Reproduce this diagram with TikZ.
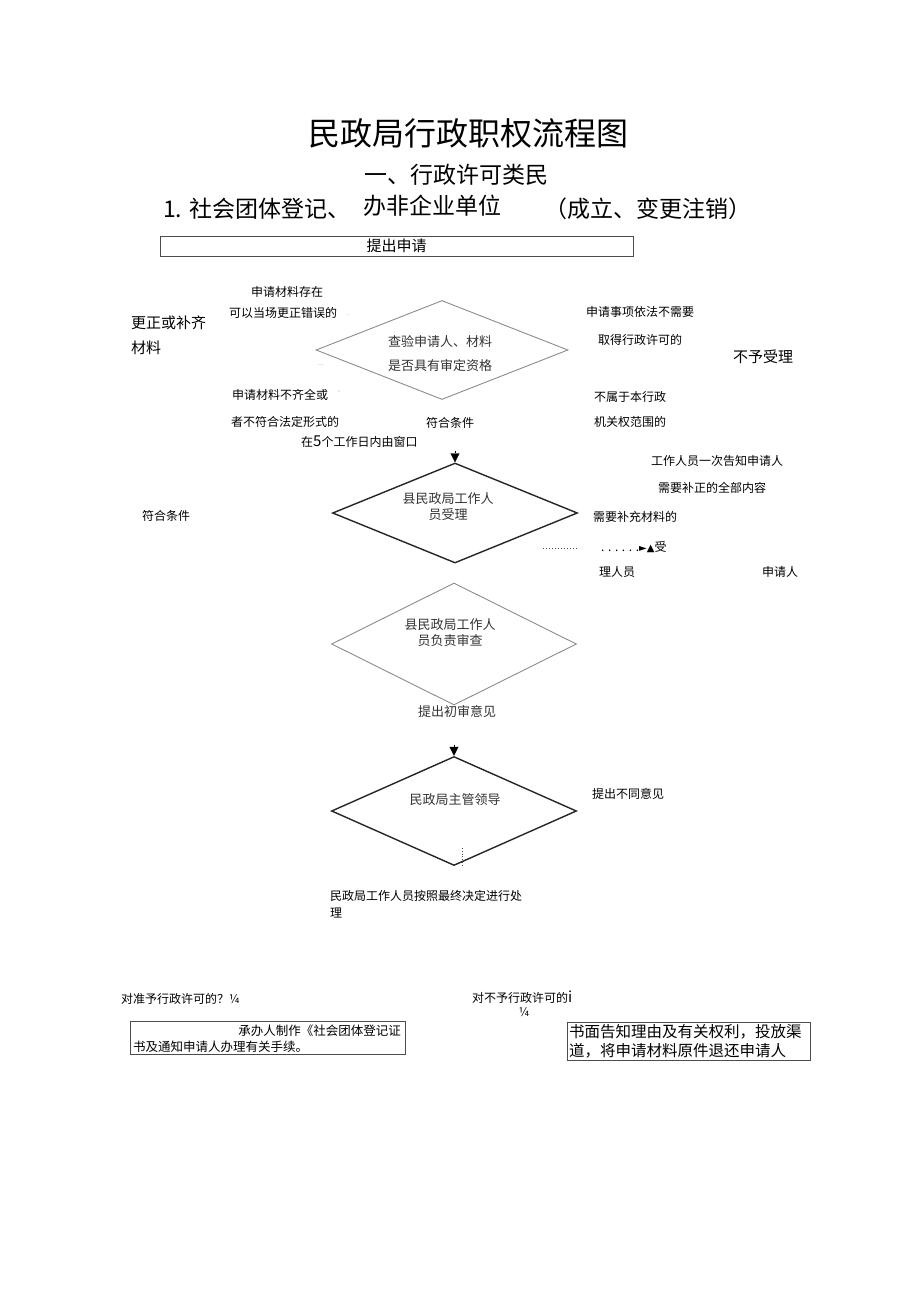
\documentclass[tikz,border=0pt]{standalone}
\usepackage{fontspec}
\setmainfont{Noto Sans CJK SC}
\newfontfamily\dejavu{DejaVu Sans}
\usetikzlibrary{shapes.geometric,arrows.meta}
\tikzset{
  fs/.style={font=\fontsize{#1}{#1}\selectfont},
  sm/.style={font=\fontsize{12}{14}\selectfont, inner sep=0pt},
  md/.style={font=\fontsize{15}{18}\selectfont, inner sep=0pt},
  dtext/.style={font=\fontsize{13}{16}\selectfont, text=black!80, align=center, inner sep=0pt},
  gdia/.style={diamond, draw=black!45, line width=0.9pt, inner sep=0pt},
  kdia/.style={diamond, draw=black!85, line width=1.4pt, inner sep=0pt},
  boxed/.style={draw=black!70, line width=0.8pt, inner sep=0pt},
  tip/.style={-{Triangle[width=9pt,length=9pt]}, line width=0.4pt},
  dots/.style={dotted, line width=1pt, black!70},
  noise/.style={font=\fontsize{7}{8}\selectfont, text=black!40, inner sep=0pt}
}
\begin{document}
\begin{tikzpicture}[x=1pt,y=-1pt]
\fill[white] (0,0) rectangle (920,1301);
\useasboundingbox (0,0) rectangle (920,1301);

% titles
\node[fs=32, inner sep=0pt] (title) at (468,133) {民政局行政职权流程图};
\node[fs=23, inner sep=0pt] (sub1) at (456,175) {一、行政许可类民};
\node[fs=23, inner sep=0pt, anchor=west] (sub2a) at (163,209) {1. 社会团体登记、};
\node[fs=23, inner sep=0pt, anchor=west] (sub2b) at (363,206) {办非企业单位};
\node[fs=23, inner sep=0pt] (sub2c) at (648,209) {（成立、变更注销）};

% apply box
\node[boxed, minimum width=473pt, minimum height=20pt, md] (apply) at (396.5,246) {提出申请};

% diamond 1
\node[gdia, minimum width=252pt, minimum height=99pt] (d1) at (442,350) {};
\node[dtext, font=\fontsize{13}{24}\selectfont] (d1t) at (440,354) {查验申请人、材料\\是否具有审定资格};
\node[sm] (l1a) at (287,292) {申请材料存在};
\node[sm] (l1b) at (283,313) {可以当场更正错误的};
\node[md, anchor=west] (fix1) at (131,323) {更正或补齐};
\node[md, anchor=west] (fix2) at (131,348) {材料};
\node[sm] (r1a) at (640,312) {申请事项依法不需要};
\node[sm] (r1b) at (640,340) {取得行政许可的};
\node[md] (reject) at (763,357) {不予受理};
\node[sm] (l1c) at (280,395) {申请材料不齐全或};
\node[sm] (l1d) at (285,422) {者不符合法定形式的};
\node[sm] (ok1) at (450,423) {符合条件};
\node[sm] (r1c) at (630,397) {不属于本行政};
\node[sm] (r1d) at (630,422) {机关权范围的};
\node[sm, anchor=west] (win) at (301,442) {在\fontsize{15}{16}\selectfont 5\fontsize{12}{14}\selectfont 个工作日内由窗口};
\node[noise] (n1) at (321,365) {...};
\node[noise] (n2) at (339,392) {-};
\node[noise] (n3) at (348,315) {.};

% diamond 2
\coordinate (a2) at (455,451);
\node[kdia, minimum width=245pt, minimum height=100pt] (d2) at (455,513) {};
\draw[tip] (a2) -- (d2.north);
\node[dtext] (d2t) at (448,507) {县民政局工作人\\员受理};
\node[sm] (ok2) at (166,516) {符合条件};
\node[sm] (r2a) at (717,461) {工作人员一次告知申请人};
\node[sm] (r2b) at (712,488) {需要补正的全部内容};
\node[sm, anchor=west] (r2c) at (593,517) {需要补充材料的};
\coordinate (dl1) at (543,548);
\coordinate (dl2) at (577,548);
\draw[dots] (dl1) -- (dl2);
\node[sm, anchor=west] (r2d) at (601,547) {. . . . . .{\dejavu\fontsize{10}{12}\selectfont ►▲}受};
\node[sm] (r2e) at (617,572) {理人员};
\node[sm] (r2f) at (780,572) {申请人};

% diamond 3
\node[gdia, minimum width=245pt, minimum height=122pt] (d3) at (454,644) {};
\node[dtext] (d3t) at (450,633) {县民政局工作人\\员负责审查};
\node[dtext] (d3b) at (457,711) {提出初审意见};

% diamond 4
\coordinate (a4) at (454,745);
\node[kdia, minimum width=245pt, minimum height=109pt] (d4) at (454,811) {};
\draw[tip] (a4) -- (d4.north);
\node[dtext] (d4t) at (455,800) {民政局主管领导};
\coordinate (v1) at (462,848);
\coordinate (v2) at (462,865);
\draw[dots, line width=0.8pt] (v1) -- (v2);
\node[sm] (r4) at (628,794) {提出不同意见};
\node[sm, anchor=west] (fin1) at (330,896) {民政局工作人员按照最终决定进行处};
\node[sm, anchor=west] (fin2) at (330,913) {理};

% outcomes
\node[sm, anchor=west] (yes) at (121,999) {对准予行政许可的？¼};
\node[sm, anchor=west] (no) at (472,997) {对不予行政许可的{\fontsize{15}{16}\selectfont i}};
\node[sm] (no2) at (524,1012) {¼};
\node[boxed, minimum width=275pt, minimum height=33pt] (boxL) at (267.5,1037.5) {};
\node[font=\fontsize{12.5}{14}\selectfont, inner sep=0pt, anchor=east] (boxL1) at (401,1031) {承办人制作《社会团体登记证};
\node[font=\fontsize{12.5}{14}\selectfont, inner sep=0pt, anchor=west] (boxL2) at (133,1047) {书及通知申请人办理有关手续。};
\node[boxed, minimum width=243pt, minimum height=38pt] (boxR) at (688.5,1041) {};
\node[font=\fontsize{15.5}{18}\selectfont, inner sep=0pt, anchor=west] (boxR1) at (569,1032) {书面告知理由及有关权利，投放渠};
\node[font=\fontsize{15.5}{18}\selectfont, inner sep=0pt, anchor=west] (boxR2) at (569,1051) {道，将申请材料原件退还申请人};
\end{tikzpicture}
\end{document}
